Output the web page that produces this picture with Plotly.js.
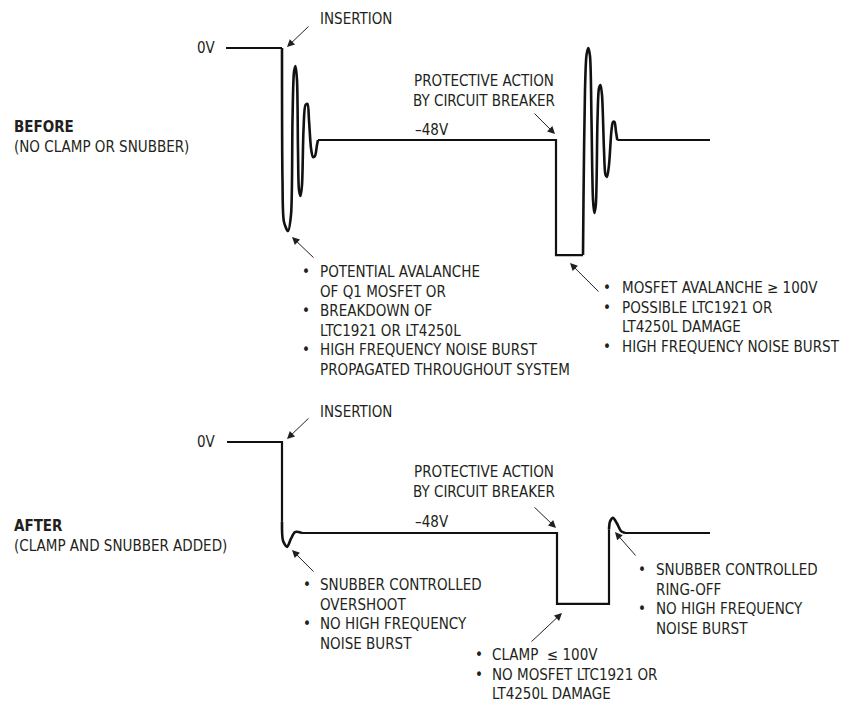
<!DOCTYPE html>
<html>
<head>
<meta charset="utf-8">
<script src="https://cdn.plot.ly/plotly-3.0.1.min.js"></script>
<style>
  body { margin: 0; background: #fff; }
  #root { width: 845px; height: 704px; }
</style>
</head>
<body>
<div id="root"></div>
<script>
// BEFORE (no clamp or snubber): time in arbitrary units, voltage in V
const beforeStartT = [226, 282];
const beforeStartV = [0, 0];
// ringing after insertion
const beforeRingT = [282, 282.5, 284, 288, 291, 292.5, 294, 295.5, 297, 298, 299, 300.5, 302, 303.5, 305.5, 307.5, 309, 311, 313, 315, 317, 318];
const beforeRingV = [0, -68.9, -90.8, -95.5, -87.1, -37.6, -12.5, -9.4, -16.7, -53.2, -74.1, -77.2, -71.5, -42.8, -29.7, -29.2, -37.6, -52.2, -56.9, -56.3, -50.6, -48];
const beforeHoldT = [318, 556, 556, 583];
const beforeHoldV = [-48, -48, -108, -108];
// ringing after breaker trips
const beforeRing2T = [583, 583.5, 585, 586.5, 588.3, 590, 591.5, 593, 594.3, 595.8, 597.5, 599, 600.5, 602, 604, 605.5, 607, 609, 611.5, 613, 614.5, 616, 617.3];
const beforeRing2V = [-108, -79.3, -21.9, -3.7, 0, -4.2, -37.6, -79.3, -86.1, -81.9, -37.6, -20.9, -19.3, -24.5, -53.2, -66.2, -67.3, -61, -42.8, -38.6, -38.6, -43.8, -48];
const beforeEndT = [617.3, 710];
const beforeEndV = [-48, -48];

// AFTER (clamp and snubber added)
const afterStartT = [227, 282, 282];
const afterStartV = [0, 0, -42];
const afterDipT = [282, 283, 287, 291, 295, 302];
const afterDipV = [-42, -52, -55.4, -51, -47.5, -48];
const afterHoldT = [302, 557, 557, 609, 609];
const afterHoldV = [-48, -48, -85.4, -85.4, -46];
const afterRingT = [609, 610, 613, 617, 621, 625];
const afterRingV = [-46, -42, -40, -43, -47, -48];
const afterEndT = [625, 710];
const afterEndV = [-48, -48];

// text
const beforeTitle = ["<b>BEFORE</b>", "(NO CLAMP OR SNUBBER)"];
const afterTitle = ["<b>AFTER</b>", "(CLAMP AND SNUBBER ADDED)"];
const protectLines = ["PROTECTIVE ACTION", "BY CIRCUIT BREAKER"];
const beforeNotesLeft = [
    [true, "POTENTIAL AVALANCHE"],
    [false, "OF Q1 MOSFET OR"],
    [true, "BREAKDOWN OF"],
    [false, "LTC1921 OR LT4250L"],
    [true, "HIGH FREQUENCY NOISE BURST"],
    [false, "PROPAGATED THROUGHOUT SYSTEM"]
];
const beforeNotesRight = [
    [true, "MOSFET AVALANCHE \u2265 100V"],
    [true, "POSSIBLE LTC1921 OR"],
    [false, "LT4250L DAMAGE"],
    [true, "HIGH FREQUENCY NOISE BURST"]
];
const afterNotesLeft = [
    [true, "SNUBBER CONTROLLED"],
    [false, "OVERSHOOT"],
    [true, "NO HIGH FREQUENCY"],
    [false, "NOISE BURST"]
];
const afterNotesClamp = [
    [true, "CLAMP&nbsp;&nbsp;\u2264 100V"],
    [true, "NO MOSFET LTC1921 OR"],
    [false, "LT4250L DAMAGE"]
];
const afterNotesRight = [
    [true, "SNUBBER CONTROLLED"],
    [false, "RING-OFF"],
    [true, "NO HIGH FREQUENCY"],
    [false, "NOISE BURST"]
];

const W = 845, H = 704;
const FONT = '"Liberation Sans Narrow", "Arial Narrow", "DejaVu Sans Condensed", sans-serif';
const FS = 15;
const INK = '#231f20';

function seg(t, v, axis, shape) {
    return {
        x: t, y: v, yaxis: axis, type: 'scatter', mode: 'lines',
        line: { color: '#111', width: shape === 'spline' ? 2.6 : 2.2, shape: shape, smoothing: 0.8 },
        hoverinfo: 'skip'
    };
}

var traces = [
    seg(beforeStartT, beforeStartV, 'y', 'linear'),
    seg(beforeRingT, beforeRingV, 'y', 'spline'),
    seg(beforeHoldT, beforeHoldV, 'y', 'linear'),
    seg(beforeRing2T, beforeRing2V, 'y', 'spline'),
    seg(beforeEndT, beforeEndV, 'y', 'linear'),
    seg(afterStartT, afterStartV, 'y2', 'linear'),
    seg(afterDipT, afterDipV, 'y2', 'spline'),
    seg(afterHoldT, afterHoldV, 'y2', 'linear'),
    seg(afterRingT, afterRingV, 'y2', 'spline'),
    seg(afterEndT, afterEndV, 'y2', 'linear')
];

var annotations = [];

// block of lines centred on page pixel row py
function block(lines, x, py, anchor, align) {
    annotations.push({
        xref: 'x', yref: 'paper', x: x, y: 1 - py / H,
        xanchor: anchor || 'left', yanchor: 'middle', align: align || anchor || 'left',
        showarrow: false, text: lines.join('<br>'),
        font: { family: FONT, size: FS, color: INK }
    });
}

function bullets(items, bx, tx, pyFirst) {
    var mid = pyFirst + (items.length - 1) * FS * 1.3 / 2;
    block(items.map(b => b[0] ? '\u2022' : '&nbsp;'), bx, mid, 'center');
    block(items.map(b => b[1]), tx, mid);
}

function arrow(x, y, yref, ax, ay) {
    annotations.push({
        xref: 'x', yref: yref, x: x, y: y, ax: ax, ay: ay,
        text: '', showarrow: true, arrowhead: 2, arrowsize: 1.5,
        arrowwidth: 1, arrowcolor: INK, standoff: 0
    });
}

// BEFORE panel
block(beforeTitle, 12, 137);
block(['0V'], 218, 48, 'right');
block(['INSERTION'], 318, 19);
block(protectLines, 484, 91, 'center');
block(['\u201348V'], 413, 130);
bullets(beforeNotesLeft, 306, 318, 272);
bullets(beforeNotesRight, 607, 620, 288);
arrow(287, 0.5, 'y', 23, -22);
arrow(292, -98.6, 'y', 23, 22);
arrow(555, -44.9, 'y', -22, -22);
arrow(570, -112.2, 'y', 30, 30);

// AFTER panel
block(afterTitle, 12, 536);
block(['0V'], 218, 442, 'right');
block(['INSERTION'], 318, 412);
block(protectLines, 484, 482, 'center');
block(['\u201348V'], 413, 522);
bullets(afterNotesLeft, 307, 318, 585);
bullets(afterNotesClamp, 479, 490, 655);
bullets(afterNotesRight, 642, 654, 570);
arrow(287, 1.6, 'y2', 23, -22);
arrow(292, -57, 'y2', 23, 23);
arrow(556, -45.3, 'y2', -23, -22);
arrow(562, -90.2, 'y2', -32, 30);
arrow(615, -47.5, 'y2', 22, 25);

var layout = {
    width: W, height: H,
    margin: { l: 0, r: 0, t: 0, b: 0 },
    paper_bgcolor: '#fff', plot_bgcolor: '#fff',
    showlegend: false,
    xaxis: { range: [0, W], visible: false, fixedrange: true },
    yaxis: { range: [-(H - 48) / 1.917, 48 / 1.917], visible: false, fixedrange: true },
    yaxis2: { range: [-(H - 442) / 1.896, 442 / 1.896], overlaying: 'y', visible: false, fixedrange: true },
    annotations: annotations
};

Plotly.newPlot('root', traces, layout, { displayModeBar: false, staticPlot: true });
</script>
</body>
</html>
